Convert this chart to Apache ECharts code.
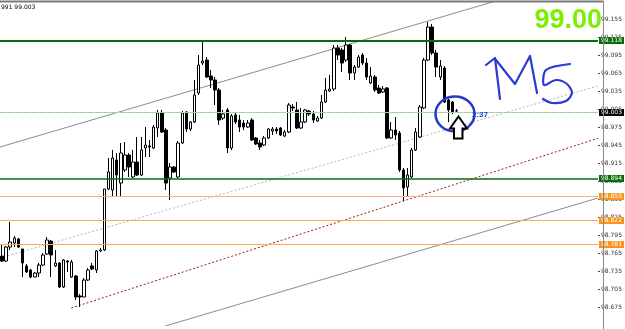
<!DOCTYPE html>
<html><head><meta charset="utf-8">
<script src="https://cdn.jsdelivr.net/npm/echarts@6/dist/echarts.min.js"></script>
<style>html,body{margin:0;padding:0;background:#fff;overflow:hidden}#c{width:625px;height:329px}</style>
</head><body><div id="c"></div>
<script>
// ---- candle data (open / close / low / high) ----
const opens=[98.7608,98.7525,98.7758,98.7825,98.7892,98.7725,98.7442,98.7375,98.7258,98.7325,98.7458,98.7642,98.7858,98.7442,98.7492,98.7092,98.7525,98.7258,98.7275,98.6942,98.6925,98.7208,98.7442,98.7375,98.7692,98.7708,98.8725,98.8708,98.9208,98.8825,98.9042,98.9292,98.8925,98.9175,98.8958,98.9408,98.9442,98.9408,98.9742,98.9992,98.9708,98.8908,98.9092,98.8925,98.9492,99.0008,98.9725,98.9842,99.0325,99.0825,99.0875,99.0608,99.0542,99.0375,98.9908,99.0042,98.9408,98.9958,98.9875,98.9825,98.9758,98.9875,98.9575,98.9492,98.9458,98.9575,98.9692,98.9725,98.9742,98.9608,98.9675,99.0092,99.0042,98.9742,98.9842,99.0025,98.9975,98.9858,98.9908,99.0175,99.0358,99.0392,99.1075,99.1042,99.0875,99.1125,99.0658,99.0758,99.0958,99.0825,99.0492,99.0592,99.0408,99.0342,99.0408,98.9575,98.9708,98.9658,98.9042,98.8758,98.8925,98.9375,98.9592,99.0075,99.0875,99.1425,99.0992,99.0592,99.0742,99.0208,99.0175,99.0025];
const closes=[98.7525,98.7758,98.7842,98.7908,98.7758,98.7492,98.7342,98.7258,98.7325,98.7458,98.7625,98.7875,98.7625,98.7492,98.7092,98.7542,98.7508,98.7508,98.6925,98.6925,98.7208,98.7375,98.7392,98.7692,98.7708,98.8725,98.9008,98.9242,98.8958,98.9325,98.9292,98.9092,98.9175,98.8958,98.9375,98.9458,98.9425,98.9758,98.9992,98.9675,98.8825,98.9092,98.9008,98.9492,98.9992,98.9725,98.9842,99.0292,99.0792,99.0858,99.0592,99.0542,99.0375,98.9875,98.9975,98.9408,98.9942,98.9842,98.9758,98.9758,98.9825,98.9542,98.9475,98.9425,98.9575,98.9725,98.9725,98.9692,98.9625,98.9675,99.0125,99.0075,98.9742,98.9842,99.0042,98.9975,98.9875,98.9908,99.0175,99.0375,99.0392,99.1075,99.0958,99.0825,99.1125,99.0658,99.0758,99.0925,99.0825,99.0592,99.0608,99.0375,99.0325,99.0392,98.9575,98.9708,98.9625,98.9042,98.8742,98.8958,98.9375,98.9675,99.0092,99.0875,99.1425,99.0992,99.0758,99.0775,99.0175,99.0042,99.0008,99.003];
const lows=[98.7508,98.7508,98.7708,98.7758,98.7742,98.7258,98.7325,98.7242,98.7258,98.7258,98.7442,98.7625,98.7258,98.7425,98.7075,98.7075,98.7342,98.7242,98.6875,98.6758,98.6925,98.7192,98.7375,98.7325,98.7675,98.7692,98.8708,98.8592,98.8592,98.8592,98.9008,98.8925,98.8908,98.8942,98.8942,98.9258,98.9258,98.9392,98.9592,98.9658,98.8708,98.8542,98.8992,98.8908,98.9475,98.9675,98.9692,98.9825,99.0292,99.0792,99.0575,99.0408,99.0125,98.9792,98.9875,98.9325,98.9375,98.9808,98.9675,98.9708,98.9742,98.9525,98.9458,98.9375,98.9442,98.9558,98.9625,98.9642,98.9608,98.9592,98.9658,99.0025,98.9725,98.9725,98.9825,98.9942,98.9825,98.9842,98.9892,99.0158,99.0342,99.0358,99.0875,99.0675,99.0842,99.0542,99.0542,99.0742,99.0792,99.0542,99.0475,99.0342,99.0308,99.0325,98.9558,98.9558,98.9542,98.9008,98.8525,98.8608,98.8908,98.9358,98.9575,99.0058,99.0858,99.0958,99.0592,99.0542,99.0158,98.9842,98.9975,99.0008];
const highs=[98.7792,98.7775,98.8175,98.7942,98.7908,98.7725,98.7475,98.7392,98.7342,98.7492,98.7658,98.7925,98.7875,98.7708,98.7508,98.7558,98.7542,98.7542,98.7292,98.6975,98.7242,98.7408,98.7492,98.7708,98.7742,98.8725,98.9242,98.9375,98.9325,98.9492,98.9508,98.9325,98.9375,98.9592,98.9592,98.9758,98.9542,98.9792,99.0042,99.0042,98.9742,98.9158,98.9108,98.9525,99.0025,99.0025,98.9858,99.0542,99.0958,99.1208,99.0925,99.0708,99.0592,99.0408,99.0042,99.0075,98.9975,99.0008,98.9958,98.9875,98.9875,98.9908,98.9592,98.9542,98.9608,98.9742,98.9758,98.9758,98.9758,98.9708,99.0158,99.0142,99.0175,99.0075,99.0058,99.0042,99.0025,98.9942,99.0292,99.0575,99.0625,99.1125,99.1125,99.1075,99.1258,99.1142,99.0792,99.0958,99.0992,99.0908,99.0758,99.0625,99.0458,99.0442,99.0425,98.9842,98.9925,98.9692,98.9075,98.9075,98.9408,98.9742,99.0125,99.0908,99.1508,99.1475,99.1042,99.0875,99.0775,99.0225,99.0192,99.0058];

// ---- axis ----
const slotCount = 146;                 // bar slots across the plot (empty space on the right)
const categories = Array.from({length: slotCount}, (_, i) => String(i + 1));
const yMin = 98.645, yMax = 99.1842, yStep = 0.03;

// ---- trend lines: [barIndex, price] anchor pairs ----
const upperChannel = [[-0.5, 98.9425], [125, 99.1948]];
const lowerChannel = [[36, 98.6364], [145.5, 98.8575]];
const midDotted = [[-0.5, 98.7575], [145.5, 99.0442]];
const redDotted = [[16.9, 98.6742], [145.5, 98.9570]];

// ---- horizontal levels ----
const levelValues = [99.124, 99.118, 99.0045, 99.003, 98.894, 98.855, 98.822, 98.781, 98.6575];
const levelLabels = ['99.124', '99.118', '', '99.003', '98.894', '98.855', '98.822', '98.781', '98.657'];
const bigLabel = '99.00';
const timerText = '2:37';
const cornerText = '991 99.003';

const candleData = opens.map((o, i) => [o, closes[i], lows[i], highs[i]]);

const levelStyles = [
  {line: {color: '#d9661c', width: 1, type: [2, 2]}, bg: '#f28a1e', fg: '#fff'},
  {line: {color: '#0b6b0b', width: 2, type: 'solid'}, bg: '#0b6b0b', fg: '#fff'},
  {line: {color: '#c9c9c9', width: 1, type: 'solid'}, bg: null},
  {line: {color: '#8fdc8f', width: 1, type: [5, 3]}, bg: '#000', fg: '#fff'},
  {line: {color: '#0b6b0b', width: 1.5, type: 'solid'}, bg: '#0b6b0b', fg: '#fff'},
  {line: {color: '#f3b08a', width: 1, type: 'solid'}, bg: '#f7941d', fg: '#fff'},
  {line: {color: '#ffa850', width: 1, type: 'solid'}, bg: '#f7941d', fg: '#fff'},
  {line: {color: '#ffa850', width: 1, type: 'solid'}, bg: '#f7941d', fg: '#fff'},
  {line: {color: '#fff', width: 0, opacity: 0, type: 'solid'}, bg: '#8a12c8', fg: '#fff'}
];

const markData = levelValues.map((v, i) => {
  const s = levelStyles[i];
  return {
    yAxis: v,
    lineStyle: Object.assign({}, s.line),
    label: s.bg ? {
      show: true, position: 'end', distance: 1, formatter: levelLabels[i],
      backgroundColor: s.bg, color: s.fg, fontSize: 6, fontFamily: 'DejaVu Sans',
      padding: [1, 2, 0, 2]
    } : {show: false}
  };
});

const chart = echarts.init(document.getElementById('c'), null, {renderer: 'canvas'});
const trend = (data, color, type, width, extra) => Object.assign({
  type: 'line', xAxisIndex: 1, yAxisIndex: 0, data, showSymbol: false, symbol: 'none',
  silent: true, animation: false, z: 1,
  lineStyle: {color, type, width}
}, extra || {});

chart.setOption({
  animation: false,
  grid: {left: 0, right: 22, top: 2, bottom: 3.5, containLabel: false},
  xAxis: [
    {type: 'category', data: categories, boundaryGap: true, show: false},
    {type: 'value', min: -0.5, max: slotCount - 0.5, show: false}
  ],
  yAxis: {
    type: 'value', position: 'right', min: yMin, max: yMax, interval: yStep,
    splitLine: {show: false},
    axisLine: {show: false, onZero: false},
    axisTick: {show: true, length: 2, lineStyle: {color: '#444'}},
    axisLabel: {fontSize: 6, color: '#333', margin: 3, fontFamily: 'DejaVu Sans',
      showMinLabel: false, showMaxLabel: false, formatter: v => v.toFixed(3)}
  },
  series: [
    trend(upperChannel, '#8c8c8c', 'solid', 1, {
      markLine: {silent: true, symbol: 'none', animation: false, data: markData}
    }),
    trend(lowerChannel, '#8c8c8c', 'solid', 1),
    trend(midDotted, '#b4b4b4', [2, 2], 1),
    trend(redDotted, '#9b1c1c', [2, 2], 1),
    {
      type: 'candlestick', xAxisIndex: 0, yAxisIndex: 0, data: candleData,
      barWidth: 3, z: 3,
      itemStyle: {color: '#ffffff', color0: '#000000', borderColor: '#000000', borderColor0: '#000000', borderWidth: 1}
    }
  ],
  graphic: [
    {type: 'line', shape: {x1: 0, y1: 1.5, x2: 603.5, y2: 1.5}, style: {stroke: '#7a7a7a', lineWidth: 2}, z: 10},
    {type: 'line', shape: {x1: 603.5, y1: 1, x2: 603.5, y2: 329}, style: {stroke: '#8a8a8a', lineWidth: 1}, z: 10},
    {type: 'text', style: {text: cornerText, x: 1, y: 4, font: '6px "DejaVu Sans"', fill: '#000'}, z: 10},
    {type: 'text', style: {text: bigLabel, x: 602, y: 21, align: 'right', verticalAlign: 'middle',
      font: 'bold 27px "Liberation Sans", Arial', fill: '#7cf000'}, z: 10},
    {type: 'text', style: {text: timerText, x: 488, y: 115, align: 'right', verticalAlign: 'middle',
      font: 'bold 8px "Liberation Sans", Arial', fill: '#1f3de0'}, z: 9},
    {type: 'ellipse', shape: {cx: 455, cy: 114, rx: 19.5, ry: 17.5},
      style: {stroke: '#2538c8', lineWidth: 2.5, fill: null}, z: 10},
    {type: 'polygon', shape: {points: [[458.5,116.5],[467,128.5],[462.5,128.5],[462.5,138.5],[454,138.5],[454,128.5],[450,128.5]]},
      style: {fill: '#fff', stroke: '#000', lineWidth: 2, lineJoin: 'miter'}, z: 11},
    {type: 'polyline', shape: {points: [[486,65],[495,58],[500,99]]},
      style: {stroke: '#2b3bd0', lineWidth: 2.2, fill: null, lineJoin: 'round', lineCap: 'round'}, z: 10},
    {type: 'polyline', shape: {points: [[496,60],[515,84],[530,56],[537,93]]},
      style: {stroke: '#2b3bd0', lineWidth: 2.2, fill: null, lineJoin: 'round', lineCap: 'round'}, z: 10},
    {type: 'polyline', shape: {points: [[570,64],[546,70],[544,85],[556,80],[567,84],[572,93],[566,101],[552,103],[543,99]], smooth: 0.3},
      style: {stroke: '#2b3bd0', lineWidth: 2.2, fill: null, lineJoin: 'round', lineCap: 'round'}, z: 10}
  ]
});
</script></body></html>
